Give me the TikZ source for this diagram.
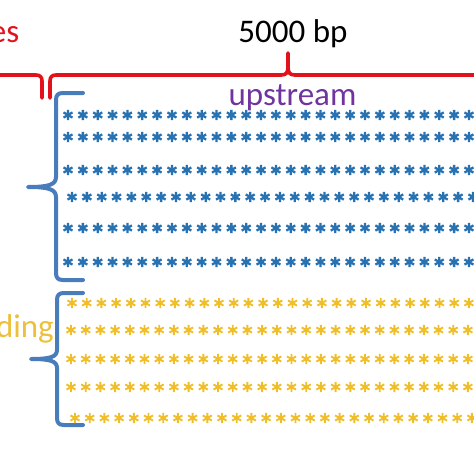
\documentclass[tikz,border=0pt]{standalone}
\usepackage{fontspec}
\setmainfont{Carlito}
\definecolor{bred}{RGB}{226,18,28}
\definecolor{sblue}{RGB}{40,114,178}
\definecolor{brblue}{RGB}{72,124,186}
\definecolor{syel}{RGB}{240,190,40}
\definecolor{tyel}{RGB}{236,192,58}
\definecolor{tpur}{RGB}{112,52,158}
\tikzset{
  astk/.pic={\draw[line cap=butt] (0,-5.2)--(0,5.2) (-4.5,-2.6)--(4.5,2.6) (-4.5,2.6)--(4.5,-2.6);},
  bigtxt/.style={inner sep=0pt,font=\fontsize{33}{40}\selectfont},
  redbrace/.style={draw=bred,line width=3.6pt,line cap=round,line join=round},
  bluebrace/.style={draw=brblue,line width=4pt,line cap=round,line join=round},
}
\begin{document}
\begin{tikzpicture}[x=1pt,y=-1pt]
\useasboundingbox (0,0) rectangle (474,474);
% texts
\node[bigtxt,text=bred,anchor=base east] (es) at (19.5,42) {es};
\node[bigtxt,text=black,anchor=base] (bp) at (293,42) {5000 bp};
\node[bigtxt,text=tpur,anchor=base] (up) at (292.5,105) {upstream};
\node[bigtxt,text=tyel,anchor=base east] (ding) at (54,337) {ding};
% red braces
\draw[redbrace] (-5,75) -- (36,75) .. controls (40,75) and (42,77) .. (42,81) -- (42,98);
\draw[redbrace] (50,98) -- (50,81) .. controls (50,77) and (52,75) .. (56,75) -- (281,75)
  .. controls (286,75) and (288,73) .. (288,67) -- (288,53) -- (288,67)
  .. controls (288,73) and (290,75) .. (295,75) -- (480,75);
% blue braces
\draw[bluebrace] (83,93) -- (63,93) .. controls (58,93) and (56,95) .. (56,100) -- (56,177)
  .. controls (56,185) and (48,187) .. (28,187) .. controls (48,187) and (56,189) .. (56,197)
  -- (56,273) .. controls (56,278) and (58,280) .. (63,280) -- (83,280);
\draw[bluebrace] (83,293) -- (64,293) .. controls (59,293) and (57,295) .. (57,300) -- (57,350)
  .. controls (57,357) and (50,359) .. (31,359) .. controls (50,359) and (57,361) .. (57,368)
  -- (57,418) .. controls (57,423) and (59,425) .. (64,425) -- (83,425);
% blue stars
\foreach \yy/\xs in {115/68,137/68,170/68,197/72,228/68,262/68}
  \foreach \i in {0,...,27}
    \pic[draw=sblue,line width=2.3pt] at ({\xs+\i*14.85},\yy) {astk};
% yellow stars
\foreach \yy/\xs in {303/72,330/71,359/71,387/71,418/75}
  \foreach \i in {0,...,27}
    \pic[draw=syel,line width=1.9pt] at ({\xs+\i*14.7},\yy) {astk};
\end{tikzpicture}
\end{document}
